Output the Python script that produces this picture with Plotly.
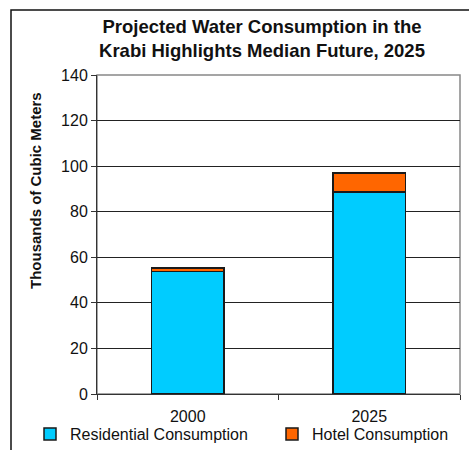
import plotly.graph_objects as go

# ---- data ----
years = ["2000", "2025"]
residential = [53.8, 88.6]
hotel = [1.6, 8.4]
y_ticks = [0, 20, 40, 60, 80, 100, 120, 140]

title_text = "Projected Water Consumption in the<br>Krabi Highlights Median Future, 2025"
y_title = "Thousands of Cubic Meters"

W, H = 469, 450
L, R, T, B = 97, 9, 75, 56
PW, PH = W - L - R, H - T - B

def px_x(px):
    return (px - L) / PW

def px_y(py):
    return (H - B - py) / PH

FONT = "Liberation Sans, Arial, sans-serif"

fig = go.Figure()
fig.add_trace(go.Bar(
    x=years, y=residential, name="Residential Consumption", legend="legend",
    marker=dict(color="#00CCFF", line=dict(color="#1a1a1a", width=1.5)),
))
fig.add_trace(go.Bar(
    x=years, y=hotel, name="Hotel Consumption", legend="legend2",
    marker=dict(color="#FF6600", line=dict(color="#1a1a1a", width=1.5)),
))

legend_common = dict(orientation="h", xref="container", yref="container",
                     xanchor="left", y=1 - 434 / H, yanchor="middle",
                     font=dict(family=FONT, size=16, color="#111"),
                     bgcolor="rgba(0,0,0,0)")

fig.update_layout(
    width=W, height=H, autosize=False,
    margin=dict(l=L, r=R, t=T, b=B, autoexpand=False),
    barmode="stack", bargap=0.6,
    paper_bgcolor="white", plot_bgcolor="white",
    font=dict(family=FONT, size=16, color="#111"),
    title=dict(text=title_text, x=262 / W, xanchor="center", xref="container",
               y=1 - 33 / H, yanchor="top", yref="container",
               font=dict(family=FONT, size=18.5, color="#111", weight="bold")),
    showlegend=True,
    legend=dict(legend_common, x=30 / W),
    legend2=dict(legend_common, x=272 / W),
    xaxis=dict(type="category", tickson="boundaries", ticks="outside", ticklen=5,
               tickcolor="#333", showline=True, linecolor="#333", linewidth=1,
               showgrid=False, ticklabelstandoff=8, automargin=False,
               tickfont=dict(family=FONT, size=16, color="#111")),
    yaxis=dict(range=[0, 140], tickvals=y_ticks, ticks="outside", ticklen=5,
               tickcolor="#333", showline=True, linecolor="#333", linewidth=1,
               showgrid=True, gridcolor="#222", gridwidth=1, zeroline=False,
               automargin=False,
               tickfont=dict(family=FONT, size=16, color="#111")),
    annotations=[
        dict(text=f"<b>{y_title}</b>", textangle=-90, showarrow=False,
             xref="paper", yref="paper", x=px_x(35), y=px_y(191),
             xanchor="center", yanchor="middle",
             font=dict(family=FONT, size=15, color="#111")),
    ],
    shapes=[
        # gray plot-area frame (top/right)
        dict(type="rect", xref="paper", yref="paper", x0=0, x1=1, y0=0, y1=1,
             line=dict(color="#888", width=1.5), layer="below"),
        # outer chart border (left + top)
        dict(type="path", xref="paper", yref="paper",
             path=f"M {px_x(11)},{px_y(452)} L {px_x(11)},{px_y(10)} L {px_x(471)},{px_y(10)}",
             line=dict(color="#111", width=1.5)),
    ],
)

fig.write_html("out.html", config={"displayModeBar": False},
               post_script="document.body.style.margin='0';")
